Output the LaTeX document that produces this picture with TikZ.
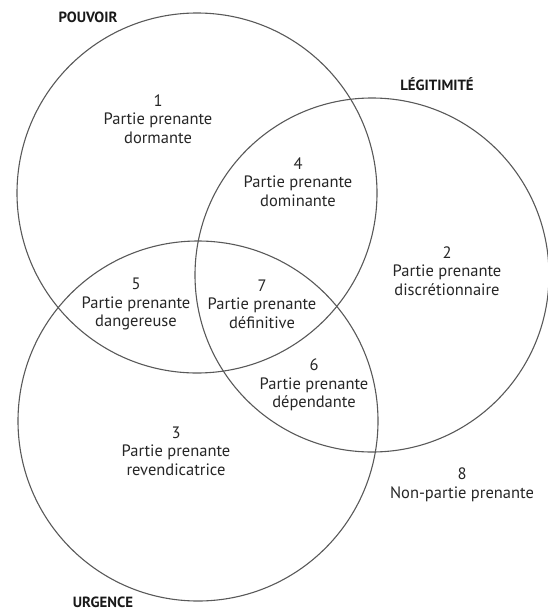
\documentclass[tikz,border=0pt]{standalone}
\usepackage{fontspec}
\setmainfont{PT Sans}
\begin{document}
\begin{tikzpicture}[x=1pt,y=-1pt,
  setcircle/.style={circle, draw=black!65, line width=1.1pt, minimum size=#1, inner sep=0pt},
  zone/.style={align=center, text=black!85, font=\fontsize{16.5}{18.5}\selectfont, inner sep=0pt},
  setlabel/.style={text=black!90, font=\fontsize{14.8}{16}\selectfont\bfseries, inner sep=0pt}]
\useasboundingbox (0,0) rectangle (547,613);
\node[setcircle=360pt] (pouvoir) at (197,193) {};
\node[setcircle=354pt] (legit) at (372,275) {};
\node[setcircle=360pt] (urgence) at (198,421) {};

\node[setlabel] (lp) at (88,17) {POUVOIR};
\node[setlabel] (ll) at (437,84) {LÉGITIMITÉ};
\node[setlabel] (lu) at (103,602) {URGENCE};

\node[zone] (z1) at (158,119) {1\\Partie prenante\\dormante};
\node[zone] (z4) at (298,182) {4\\Partie prenante\\dominante};
\node[zone] (z2) at (447,271) {2\\Partie prenante\\discrétionnaire};
\node[zone] (z5) at (136,304) {5\\Partie prenante\\dangereuse};
\node[zone] (z7) at (262,304) {7\\Partie prenante\\définitive};
\node[zone] (z6) at (314,385) {6\\Partie prenante\\dépendante};
\node[zone] (z3) at (176,451) {3\\Partie prenante\\revendicatrice};
\node[zone, font=\fontsize{16.5}{19}\selectfont] (z8) at (462,485) {8\\Non-partie prenante};
\end{tikzpicture}
\end{document}
